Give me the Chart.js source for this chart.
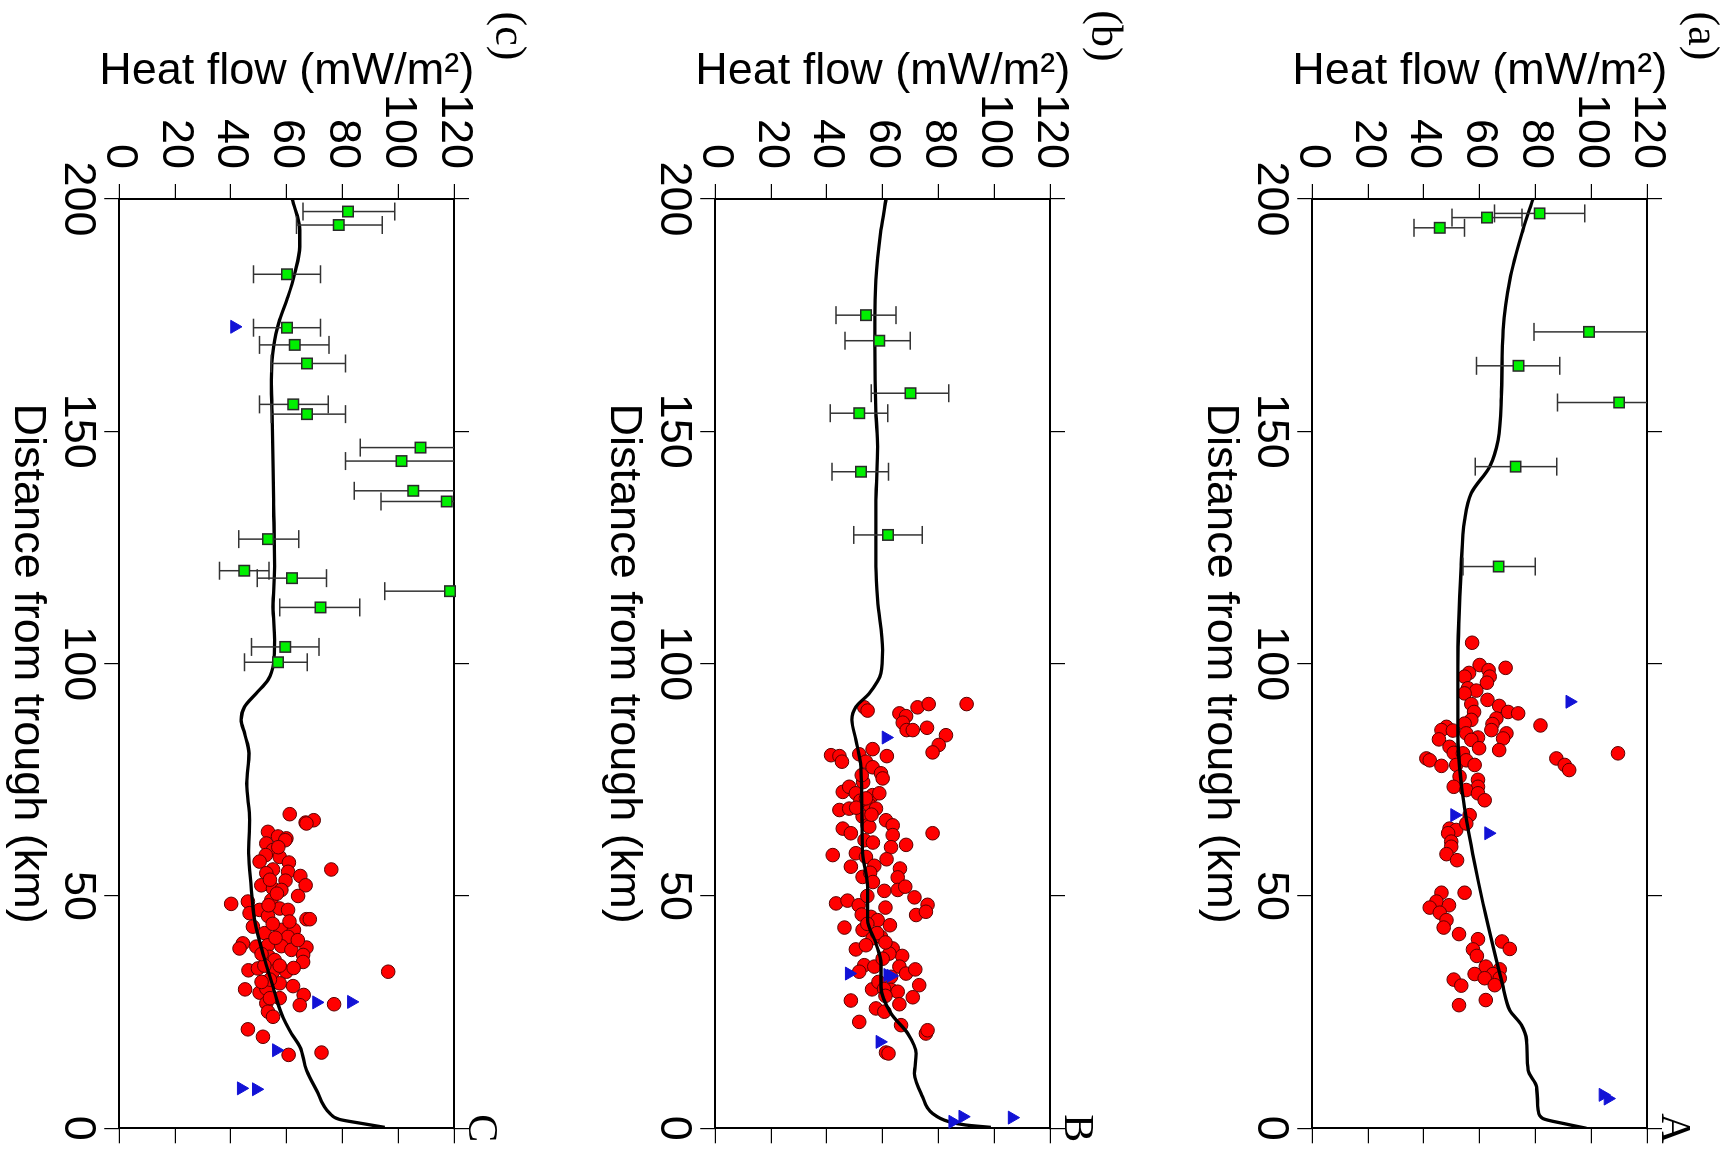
<!DOCTYPE html>
<html>
<head>
<meta charset="utf-8">
<script src="https://cdn.jsdelivr.net/npm/chart.js@4.4.1/dist/chart.umd.min.js"></script>
<style>
  html, body { margin: 0; padding: 0; background: #fff; overflow: hidden; }
  body { width: 1723px; height: 1158px; position: relative; }
  /* the figure is laid out upright and then turned a quarter turn clockwise */
  #fig { position: absolute; left: 0; top: 0; width: 1158px; height: 1723px;
         transform-origin: 0 0; transform: translate(1723px, 0) rotate(90deg); overflow: hidden; }
  #fig canvas { position: absolute; left: 0; }
</style>
</head>
<body>
<div id="fig">
  <canvas id="chartA" width="1158" height="597" style="top:0px;width:1158px;height:597px"></canvas>
  <canvas id="chartB" width="1158" height="596" style="top:597px;width:1158px;height:596px"></canvas>
  <canvas id="chartC" width="1158" height="530" style="top:1193px;width:1158px;height:530px"></canvas>
</div>
<script>
// [distance km, heat flow mW/m2]
const panelA_line = [[0,98.3],[0.9,91.1],[2.1,82.7],[3.9,81.0],[8.9,80.4],[12.5,77.4],[19.0,76.8],[22.2,75.0],[25.4,70.8],[30.5,68.4],[39.1,64.8],[48.4,61.2],[57.0,58.2],[64.0,56.0],[74.2,53.4],[85.0,52.2],[99.3,52.2],[120.9,53.4],[130.9,54.6],[136.7,57.0],[142.4,63.6],[148.1,66.6],[157.4,67.8],[171.8,68.4],[182.6,70.8],[193.3,75.5],[200,79.1]];
const panelB_line = [[0.2,98.8],[0.7,89.9],[1.4,83.9],[3.2,77.9],[6.8,74.3],[11.8,71.4],[16.1,72.0],[20.4,69.0],[24.7,63.0],[30.5,59.4],[35.5,59.4],[39.8,57.6],[44.8,54.6],[52.0,54.6],[59.2,52.8],[66.3,52.6],[77.8,52.2],[83.6,50.4],[87.9,49.0],[90.7,50.4],[93.6,55.2],[97.9,59.4],[102.9,60.0],[113.7,58.2],[120.9,57.6],[135.2,57.6],[146.7,58.2],[153.9,57.6],[168.2,57.2],[182.6,57.6],[193.3,59.4],[200,61.2]];
const panelC_line = [[0.2,95.2],[1.0,87.4],[1.9,79.0],[3.2,75.5],[8.2,70.7],[12.5,67.1],[17.6,64.7],[20.4,61.7],[24.7,58.1],[30.5,55.1],[37.6,51.5],[44.8,48.5],[52.0,47.3],[59.2,46.4],[66.3,46.7],[74.2,45.7],[80.7,46.5],[85.0,44.9],[87.9,43.7],[90.7,44.9],[93.6,49.1],[96.5,53.3],[100.1,55.3],[105.1,55.7],[112.2,55.1],[120.9,55.7],[135.2,55.3],[153.9,54.8],[161.1,54.5],[168.2,55.3],[174.0,57.5],[179.0,60.5],[184.0,62.9],[189.7,64.7],[193.3,64.7],[200,62.0]];

// [distance, heat flow, lower, upper]
const panelA_squares = [[196.9,81.5,65.3,97.7],[196.0,62.6,50.1,75.2],[193.8,45.7,36.5,54.6],[171.4,99.2,79.5,120],[164.1,73.9,58.9,88.7],[156.2,110.0,87.9,120],[142.4,72.9,58.4,87.6],[120.9,66.8,54.0,79.9]];
const panelB_squares = [[175.0,54.0,43.3,64.8],[169.5,58.8,46.5,69.9],[158.2,70.0,55.9,83.7],[153.9,51.6,41.2,61.8],[141.3,52.2,41.8,62.1],[127.7,61.9,49.6,74.2]];
const panelC_squares = [[197.3,82.0,65.9,98.8],[194.4,78.7,63.5,94.3],[183.8,60.1,48.1,72.1],[172.3,60.1,48.1,72.1],[168.6,62.9,50.3,75.2],[164.6,67.3,54.5,81.1],[155.8,62.4,50.3,74.9],[153.7,67.3,54.5,81.1],[146.5,108.0,86.4,120],[143.6,101.2,81.1,120],[137.2,105.4,84.2,120],[134.9,117.4,93.8,120],[126.8,53.3,42.8,64.3],[120.0,44.8,35.9,53.7],[118.4,61.9,49.5,74.3],[115.6,118.6,95.2,120],[112.1,72.1,57.5,86.2],[103.6,59.5,47.4,71.6],[100.3,56.9,44.9,67.4]];

const panelA_triangles = [[91.8,92.3],[67.4,51.0],[63.5,63.2],[7.2,104.2],[6.4,106.0]];
const panelB_triangles = [[84.1,61.2],[33.3,48.0],[33.0,61.8],[32.8,63.0],[18.6,59.0],[2.5,88.7],[1.4,85.1],[2.3,106.4]];
const panelC_triangles = [[172.5,41.3],[27.1,70.7],[27.2,83.2],[16.8,56.3],[8.6,43.7],[8.4,49.1]];

const panelA_circles = [[104.5,57.3],[99.7,60.0],[98.6,63.2],[99.1,69.3],[98.0,56.2],[97.2,63.6],[97.2,54.6],[95.9,62.6],[94.7,55.8],[94.2,58.8],[93.6,54.6],[92.2,62.8],[91.3,57.0],[90.9,67.0],[89.6,58.0],[89.6,70.2],[89.3,73.8],[88.2,66.0],[87.9,57.0],[87.1,54.6],[87.0,64.6],[86.7,81.8],[86.4,48.1],[85.7,46.3],[85.6,50.4],[85.7,64.2],[85.0,69.6],[85.0,55.2],[83.7,45.4],[84.1,59.4],[83.9,68.4],[83.6,57.0],[81.8,59.8],[82.1,49.2],[81.4,67.0],[80.8,50.7],[80.7,54.0],[79.6,40.9],[79.2,42.1],[78.0,46.3],[78.2,51.6],[79.2,55.2],[78.2,58.2],[79.6,87.5],[78.2,90.5],[77.1,92.1],[80.7,109.6],[75.7,52.8],[75.0,59.4],[73.5,59.4],[73.5,50.7],[72.8,55.2],[72.1,59.4],[70.6,61.8],[67.4,56.4],[64.5,49.2],[64.2,51.6],[65.6,55.2],[63.5,48.7],[61.7,49.8],[60.6,49.8],[59.0,48.1],[57.7,51.9],[50.7,46.3],[48.8,44.5],[47.5,42.1],[48.0,49.0],[46.4,45.7],[44.8,48.1],[43.2,47.1],[50.7,54.6],[41.8,52.6],[40.7,59.4],[38.5,57.6],[37.1,59.0],[40.2,68.0],[38.6,70.8],[34.8,62.2],[34.2,67.2],[33.2,64.8],[33.2,58.2],[32.3,67.2],[32.3,61.8],[30.8,65.4],[32.0,50.7],[30.7,53.4],[27.6,62.2],[26.5,52.6]];
const panelB_circles = [[90.6,53.4],[89.9,54.6],[89.3,66.0],[88.7,68.4],[90.6,72.5],[91.3,76.5],[91.3,90.1],[87.3,67.2],[85.7,68.6],[85.7,70.8],[86.2,75.9],[84.6,82.7],[82.5,80.1],[80.9,77.9],[80.3,41.5],[80.1,44.5],[78.9,45.4],[80.5,51.6],[81.6,56.4],[80.1,61.5],[78.9,54.0],[77.7,56.4],[76.4,59.4],[75.3,60.0],[72.4,45.7],[73.5,48.0],[71.7,56.4],[72.1,58.8],[72.1,50.4],[69.6,55.2],[68.5,44.5],[68.8,48.0],[68.8,57.6],[67.1,52.8],[66.3,61.2],[65.2,63.6],[64.5,45.7],[63.5,48.6],[65.2,54.6],[63.5,77.9],[63.1,63.6],[64.9,55.2],[58.8,42.1],[59.2,50.4],[58.4,54.0],[60.5,63.0],[61.0,68.4],[56.3,48.6],[54.1,52.8],[57.9,61.4],[55.9,66.2],[54.0,65.4],[51.1,60.6],[51.3,65.4],[52.0,68.1],[49.7,71.4],[48.1,76.1],[45.9,72.0],[46.6,75.5],[48.4,43.3],[49.0,47.4],[48.0,51.4],[45.5,55.8],[44.8,58.2],[47.5,61.0],[43.7,62.6],[43.2,46.3],[42.7,52.8],[40.9,56.4],[38.5,50.4],[39.4,54.0],[41.2,59.4],[38.7,63.6],[37.1,67.0],[37.6,62.4],[35.1,53.4],[34.8,57.0],[33.7,51.6],[34.8,66.0],[33.3,68.4],[34.2,71.7],[32.6,63.0],[30.8,73.1],[29.9,56.2],[29.8,63.0],[29.4,65.4],[28.2,70.8],[27.5,48.6],[25.8,57.6],[25.1,60.6],[26.7,66.0],[22.9,51.6],[22.2,66.6],[20.4,75.5],[21.1,76.1],[16.3,61.2],[16.1,62.1],[70.5,52.0],[71.0,54.0],[69.0,50.5],[67.5,56.0],[74.5,53.0],[76.0,52.5],[62.0,53.5],[61.5,56.5],[56.5,57.0],[55.0,55.5],[53.0,56.5],[50.0,54.5],[46.0,52.5],[44.0,54.5],[42.0,58.0],[40.0,61.0],[36.5,60.0],[31.5,58.5],[30.0,60.5],[28.5,61.0]];
const panelC_circles = [[67.6,61.1],[65.8,66.8],[66.3,69.7],[63.8,53.3],[62.8,56.9],[62.4,59.9],[65.6,67.1],[62.0,59.5],[61.3,52.7],[59.9,55.1],[58.4,57.5],[58.8,52.5],[57.4,50.3],[57.2,60.8],[55.7,55.1],[54.9,52.7],[55.2,60.5],[55.7,76.0],[54.3,64.9],[52.3,66.8],[53.3,59.6],[52.3,50.9],[51.6,55.1],[51.3,58.1],[50.0,64.1],[49.1,54.5],[48.3,40.1],[48.8,46.1],[46.3,46.7],[47.0,50.3],[45.7,53.3],[47.3,57.5],[47.0,60.5],[45.0,67.1],[45.0,68.3],[43.4,47.9],[42.0,52.1],[42.7,58.1],[42.7,62.6],[41.2,60.5],[39.8,44.3],[38.7,43.1],[39.1,49.1],[39.4,53.3],[39.2,58.1],[38.4,61.7],[38.9,67.1],[37.3,65.9],[36.9,53.7],[36.2,55.7],[35.8,65.9],[34.0,46.3],[34.4,49.7],[33.7,55.1],[33.7,59.9],[33.7,96.4],[29.9,45.1],[29.2,50.3],[30.1,52.7],[31.2,57.5],[30.6,62.3],[28.7,66.1],[26.5,64.7],[28.0,57.5],[26.9,52.7],[25.1,53.3],[24.0,55.1],[26.7,77.0],[21.3,46.1],[19.7,51.5],[15.8,60.7],[16.3,72.5],[44.0,55.0],[41.0,56.0],[35.0,52.0],[32.0,54.0],[31.5,51.0],[28.0,54.0],[48.0,53.5],[50.5,56.5],[53.5,54.0],[60.5,57.0],[37.5,51.0],[35.0,57.5],[44.5,61.0],[40.5,64.0],[34.5,62.5]];

const SANS = "'Liberation Sans', Arial, sans-serif";
const SERIF = "'Liberation Serif', 'Times New Roman', serif";
Chart.defaults.font.family = SANS;
Chart.defaults.color = '#000';

const toPoints = arr => arr.map(p => ({x: p[0], y: p[1]}));

// horizontal error bars of the squares (vertical before the figure is turned)
const errorBars = {
  id: 'errorBars',
  beforeDatasetDraw(chart, args) {
    const ds = chart.data.datasets[args.index];
    if (!ds.errLow) return;
    const ctx = chart.ctx;
    const xs = chart.scales.x, ys = chart.scales.y;
    ctx.save();
    ctx.strokeStyle = '#333';
    ctx.lineWidth = 1.5;
    ds.data.forEach((p, i) => {
      const px = xs.getPixelForValue(p.x);
      const lo = ys.getPixelForValue(ds.errLow[i]);
      const hi = ys.getPixelForValue(ds.errHigh[i]);
      ctx.beginPath();
      ctx.moveTo(px, lo); ctx.lineTo(px, hi);
      ctx.moveTo(px - 9, lo); ctx.lineTo(px + 9, lo);
      if (ds.errHigh[i] < 120) { ctx.moveTo(px - 9, hi); ctx.lineTo(px + 9, hi); }
      ctx.stroke();
    });
    ctx.restore();
  }
};

const panelLabels = {
  id: 'panelLabels',
  afterDraw(chart, args, opts) {
    const ctx = chart.ctx;
    ctx.save();
    ctx.fillStyle = '#000';
    ctx.textAlign = 'center';
    ctx.textBaseline = 'middle';
    ctx.font = '44px ' + SERIF;
    ctx.fillText(opts.tag, 36, 22);
    ctx.font = '42px ' + SERIF;
    ctx.fillText(opts.corner, chart.chartArea.right, 50);
    ctx.restore();
  }
};

function axisStyle() {
  return {
    grid: {drawOnChartArea: false, drawTicks: true, tickLength: 15, color: '#000', lineWidth: 1.2},
    border: {display: true, color: '#000', width: 2}
  };
}

function makeChart(id, h, tag, corner, line, circles, squares, triangles) {
  return new Chart(document.getElementById(id), {
    type: 'scatter',
    data: {
      datasets: [
        {label: 'triangles', data: toPoints(triangles), pointStyle: 'triangle', pointRadius: 7.5,
         backgroundColor: '#1212d6', borderColor: '#1212d6', borderWidth: 1, order: 1, clip: false},
        {label: 'squares', data: toPoints(squares), errLow: squares.map(s => s[2]), errHigh: squares.map(s => s[3]),
         pointStyle: 'rect', pointRadius: 7.4, backgroundColor: '#00f000', borderColor: '#2a2a2a', borderWidth: 1.5,
         order: 2, clip: false},
        {label: 'model', data: toPoints(line), showLine: true, borderColor: '#000', borderWidth: 3.3,
         pointRadius: 0, cubicInterpolationMode: 'monotone', order: 3},
        {label: 'circles', data: toPoints(circles), pointRadius: 6.8, backgroundColor: '#ff0000',
         borderColor: '#5a0000', borderWidth: 1, order: 4}
      ]
    },
    options: {
      responsive: false,
      animation: false,
      devicePixelRatio: 1,
      layout: {padding: 0},
      plugins: {legend: {display: false}, tooltip: {enabled: false}, panelLabels: {tag: tag, corner: corner}},
      scales: {
        x: Object.assign(axisStyle(), {
          type: 'linear', position: 'bottom', min: 0, max: 200, reverse: true,
          ticks: {stepSize: 50, autoSkip: false, maxRotation: 0, minRotation: 0, padding: 0, font: {size: 45}},
          title: {display: true, text: 'Distance from trough (km)', font: {size: 45}, padding: {top: 0, bottom: h - 530}},
          afterFit: s => { s.height = h - 410.7; }
        }),
        x2: Object.assign(axisStyle(), {
          type: 'linear', position: 'top', min: 0, max: 200, reverse: true,
          ticks: {display: false, stepSize: 50, autoSkip: false},
          afterFit: s => { s.height = 76; }
        }),
        y: Object.assign(axisStyle(), {
          type: 'linear', position: 'left', min: 0, max: 120,
          ticks: {stepSize: 20, autoSkip: false, padding: 15, font: {size: 45}},
          title: {display: true, text: 'Heat flow (mW/m²)', font: {size: 45}, padding: {top: 45, bottom: 0}},
          afterFit: s => { s.width = 199; }
        }),
        y2: Object.assign(axisStyle(), {
          type: 'linear', position: 'right', min: 0, max: 120,
          ticks: {display: false, stepSize: 20, autoSkip: false},
          afterFit: s => { s.width = 29.7; }
        })
      }
    },
    plugins: [errorBars, panelLabels]
  });
}

makeChart('chartA', 597, '(a)', 'A', panelA_line, panelA_circles, panelA_squares, panelA_triangles);
makeChart('chartB', 596, '(b)', 'B', panelB_line, panelB_circles, panelB_squares, panelB_triangles);
makeChart('chartC', 530, '(c)', 'C', panelC_line, panelC_circles, panelC_squares, panelC_triangles);
</script>
</body>
</html>
